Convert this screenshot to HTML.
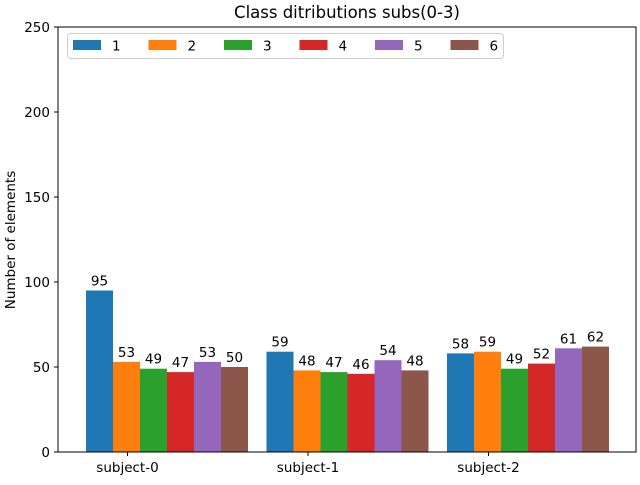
<!DOCTYPE html>
<html><head><meta charset="utf-8"><style>
body{margin:0;background:#fff}
text{font-family:"DejaVu Sans","Liberation Sans",sans-serif;fill:#000}
</style></head><body>
<svg width="640" height="480" xmlns="http://www.w3.org/2000/svg">
<rect width="640" height="480" fill="#fff"/>
<text x="347" y="18" font-size="16.5" text-anchor="middle">Class ditributions subs(0-3)</text>
<text transform="translate(15,240) rotate(-90)" font-size="13.5" text-anchor="middle">Number of elements</text>
<g id="yticks"></g><g id="bars"></g><g id="xticks"></g>
<rect x="58" y="27" width="578" height="425" fill="none" stroke="#000" stroke-width="1"/>
<g id="legend"></g>
</svg>
<script>
const categories=["subject-0","subject-1","subject-2"];
const seriesNames=["1","2","3","4","5","6"];
const s1=[95,59,58];
const s2=[53,48,59];
const s3=[49,47,49];
const s4=[47,46,52];
const s5=[53,54,61];
const s6=[50,48,62];
const yTicks=[0,50,100,150,200,250];
const series=[s1,s2,s3,s4,s5,s6];
const colors=["#1f77b4","#ff7f0e","#2ca02c","#d62728","#9467bd","#8c564b"];
const NS="http://www.w3.org/2000/svg";
const y=v=>452-v*1.7;
const gx=i=>86+180.5*i;
const bw=27;
function mk(tag,attrs,parent){const e=document.createElementNS(NS,tag);for(const k in attrs)e.setAttribute(k,attrs[k]);parent.appendChild(e);return e;}
const yt=document.getElementById('yticks');
yTicks.forEach(t=>{
 const l=mk('line',{x1:54,x2:58,y1:y(t),y2:y(t),stroke:'#000'},yt);
 
 
 const tx=mk('text',{x:50,y:y(t)+5,'font-size':13.5,'text-anchor':'end'},yt);
 tx.textContent=t;
 
 
});
const bg=document.getElementById('bars');
series.forEach((s,k)=>{s.forEach((v,i)=>{
 const x=gx(i)+k*bw;
 const r=mk('rect',{x:x,y:y(v),width:bw,height:452-y(v),fill:colors[k]},bg);
 
 
 const t=mk('text',{x:x+bw/2,y:y(v)-5,'font-size':13.5,'text-anchor':'middle'},bg);
 t.textContent=v;
 
 
});});
const xt=document.getElementById('xticks');
categories.forEach((c,i)=>{
 const x=gx(i)+41.5;
 const l=mk('line',{x1:x,x2:x,y1:452,y2:456,stroke:'#000'},xt);
 
 
 const t=mk('text',{x:x,y:472,'font-size':13.5,'text-anchor':'middle'},xt);
 t.textContent=c;
 
 
});
const lg=document.getElementById('legend');
const box=mk('rect',{x:67.5,y:33.5,width:436,height:25,rx:3,fill:'#fff','fill-opacity':0.8,stroke:'#ccc'},lg);


seriesNames.forEach((n,k)=>{
 const x=73+75.5*k;
 const p=mk('rect',{x:x,y:40,width:28,height:10,fill:colors[k]},lg);
 
 
 const t=mk('text',{x:x+39,y:50.5,'font-size':13.5},lg);
 t.textContent=n;
 
 
});
</script>
</body></html>
